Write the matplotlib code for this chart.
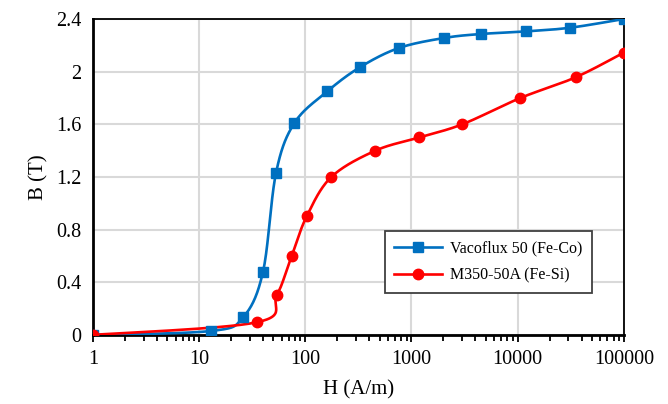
import numpy as np
import matplotlib
matplotlib.use("Agg")
import matplotlib.pyplot as plt
from matplotlib.ticker import LogLocator, NullFormatter, FixedLocator, FixedFormatter

# Vacoflux 50 (Fe-Co)
h_feco = [1, 13, 26, 40, 53, 79, 161, 331, 763, 2040, 4520, 12080, 31400, 100000]
b_feco = [0, 0.03, 0.134, 0.48, 1.23, 1.61, 1.85, 2.036, 2.18, 2.256, 2.286, 2.306, 2.334, 2.4]

# M350-50A (Fe-Si)
h_fesi = [1, 35, 54, 74.5, 103, 176, 458, 1180, 3010, 10600, 35100, 100000]
b_fesi = [0, 0.096, 0.3, 0.6, 0.9, 1.2, 1.4, 1.5, 1.6, 1.8, 1.957, 2.145]

x_ticks = [1, 10, 100, 1000, 10000, 100000]
x_labels = ["1", "10", "100", "1000", "10000", "100000"]
y_ticks = [0, 0.4, 0.8, 1.2, 1.6, 2, 2.4]
y_labels = ["0", "0.4", "0.8", "1.2", "1.6", "2", "2.4"]


def smooth(h, b, n=30):
    # excel-like smoothed line (bezier through points, done in log-x space)
    x = np.log10(h)
    y = np.array(b, dtype=float)
    P = np.column_stack([x, y])
    out = [P[0]]
    for i in range(len(P) - 1):
        p0 = P[i - 1] if i > 0 else P[i]
        p1 = P[i]
        p2 = P[i + 1]
        p3 = P[i + 2] if i + 2 < len(P) else P[i + 1]
        c1 = p1 + (p2 - p0) / 6
        c2 = p2 - (p3 - p1) / 6
        t = np.linspace(0, 1, n)[1:, None]
        seg = ((1 - t) ** 3) * p1 + 3 * ((1 - t) ** 2) * t * c1 + 3 * (1 - t) * t ** 2 * c2 + t ** 3 * p2
        out.extend(seg)
    out = np.array(out)
    return 10 ** out[:, 0], out[:, 1]


plt.rcParams['font.family'] = ['Liberation Serif', 'DejaVu Serif']

fig = plt.figure(figsize=(6.68, 4.04), dpi=100)
ax = fig.add_axes([0.139, 0.171, 0.795, 0.782])

blue = "#0070C0"
red = "#FF0000"

sx, sy = smooth(h_feco, b_feco)
ax.plot(sx, sy, color=blue, lw=1.9, zorder=3)
ax.plot(h_feco, b_feco, ls="none", marker="s", ms=7, color=blue, zorder=4)
sx, sy = smooth(h_fesi, b_fesi)
ax.plot(sx, sy, color=red, lw=1.9, zorder=3)
ax.plot(h_fesi, b_fesi, ls="none", marker="o", ms=7.5, color=red, zorder=4)

# legend proxies
ax.plot([], [], color=blue, lw=1.9, marker="s", ms=7, label="Vacoflux 50 (Fe-Co)")
ax.plot([], [], color=red, lw=1.9, marker="o", ms=7.5, label="M350-50A (Fe-Si)")

ax.set_xscale("log")
ax.set_xlim(1, 100000)
ax.set_ylim(0, 2.4)
ax.xaxis.set_major_locator(FixedLocator(x_ticks))
ax.xaxis.set_major_formatter(FixedFormatter(x_labels))
ax.xaxis.set_minor_locator(LogLocator(base=10, subs=np.arange(2, 10)))
ax.xaxis.set_minor_formatter(NullFormatter())
ax.set_yticks(y_ticks)
ax.set_yticklabels(y_labels)

ax.grid(True, which="major", color="#d9d9d9", lw=1.5)
ax.set_axisbelow(True)
for s in ax.spines.values():
    s.set_color("black")
    s.set_linewidth(1.3)
ax.spines["left"].set_linewidth(2)
ax.spines["bottom"].set_linewidth(2)

ax.tick_params(axis="x", which="major", direction="out", length=5, width=1.3, labelsize=14.5, pad=6)
ax.tick_params(axis="x", which="minor", direction="out", length=4, width=1.3)
ax.tick_params(axis="y", which="both", length=0, labelsize=14.5, pad=8)

ax.set_xlabel("H (A/m)", fontsize=15, labelpad=8)
ax.set_ylabel("B (T)", fontsize=15, labelpad=6)

leg = ax.legend(loc="lower right", bbox_to_anchor=(0.94, 0.133), borderaxespad=0, fontsize=11.5,
                fancybox=False, edgecolor="#404040", framealpha=1, handlelength=3.0,
                handletextpad=0.5, borderpad=0.6, labelspacing=0.7)
leg.get_frame().set_linewidth(1.3)

fig.savefig("out.png", dpi=100)
